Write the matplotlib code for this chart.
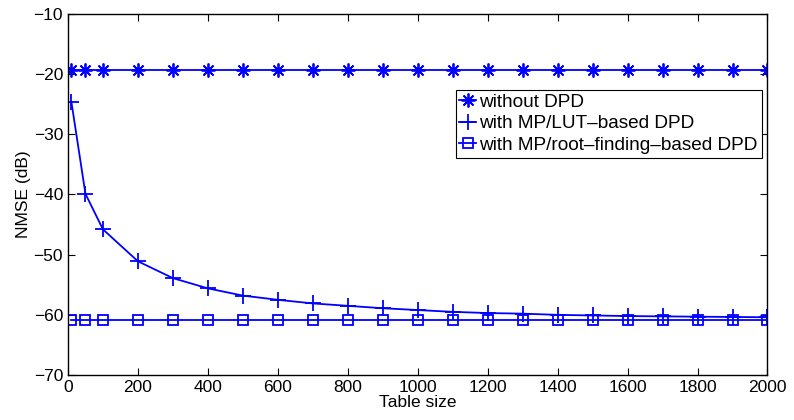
import matplotlib
matplotlib.use("Agg")
import matplotlib.pyplot as plt

# table sizes and NMSE (dB)
table_size = [10, 50, 100, 200, 300, 400, 500, 600, 700, 800, 900, 1000,
              1100, 1200, 1300, 1400, 1500, 1600, 1700, 1800, 1900, 2000]
nmse_no_dpd = [-19.4] * len(table_size)
nmse_lut = [-24.7, -39.9, -45.8, -51.1, -53.9, -55.6, -56.8, -57.5, -58.1,
            -58.5, -58.9, -59.2, -59.5, -59.7, -59.8, -60.0, -60.1, -60.2,
            -60.25, -60.3, -60.35, -60.4]
nmse_root = [-60.8] * len(table_size)

labels = ["without DPD", "with MP/LUT\u2013based DPD",
          "with MP/root\u2013finding\u2013based DPD"]

plt.rcParams["font.family"] = ["Liberation Sans", "DejaVu Sans"]
plt.rcParams["font.size"] = 12

fig = plt.figure(figsize=(7.94, 4.2), dpi=100)
ax = fig.add_axes([0.0856, 0.107, 0.881, 0.860])

blue = "#0000ff"
ax.plot(table_size, nmse_no_dpd, color=blue, lw=1.3, marker=(8, 2, 0),
        ms=10, mew=1.3, label=labels[0])
ax.plot(table_size, nmse_lut, color=blue, lw=1.3, marker="+",
        ms=12, mew=1.3, label=labels[1])
ax.plot(table_size, nmse_root, color=blue, lw=1.3, marker="s",
        ms=7.5, mew=1.3, mfc="none", label=labels[2])

ax.set_xlim(0, 2000)
ax.set_ylim(-70, -10)
ax.set_xticks(range(0, 2001, 200))
ax.set_yticks(range(-70, -9, 10))
ax.tick_params(direction="in", top=True, right=True, length=5, labelsize=12.5)
ax.set_xlabel("Table size", fontsize=12.5, labelpad=0)
ax.set_ylabel("NMSE (dB)", fontsize=12.5, labelpad=2)
for s in ax.spines.values():
    s.set_linewidth(1.0)

leg = ax.legend(loc="upper right", bbox_to_anchor=(0.9915, 0.79),
                fontsize=13.7, handlelength=0.9, handletextpad=0.15,
                borderpad=0.2, labelspacing=0.22, borderaxespad=0,
                fancybox=False, framealpha=1)
leg.get_frame().set_edgecolor("black")
leg.get_frame().set_linewidth(0.8)

fig.savefig("out.png", dpi=100)
